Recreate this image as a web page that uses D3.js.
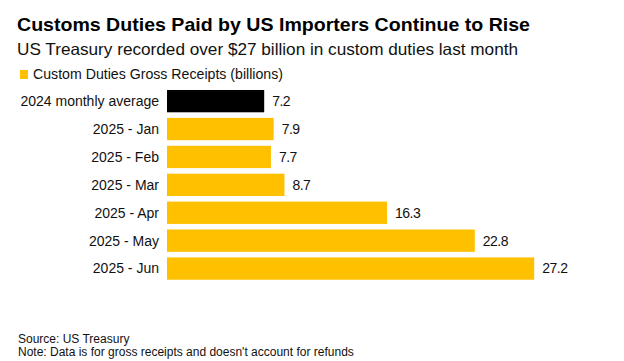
<!DOCTYPE html>
<html>
<head>
<meta charset="utf-8">
<script src="https://cdn.jsdelivr.net/npm/d3@7"></script>
<style>
  body { margin: 0; background: #fff; }
  svg { display: block; font-family: "Liberation Sans", Arial, sans-serif; }
</style>
</head>
<body>
<div id="container"></div>
<script>
// chart data
const categories = ["2024 monthly average", "2025 - Jan", "2025 - Feb", "2025 - Mar", "2025 - Apr", "2025 - May", "2025 - Jun"];
const receipts = [7.2, 7.9, 7.7, 8.7, 16.3, 22.8, 27.2];
const barColors = ["#000000", "#ffc000", "#ffc000", "#ffc000", "#ffc000", "#ffc000", "#ffc000"];

const width = 624, height = 361;

const svg = d3.select("#container").append("svg")
    .attr("width", width)
    .attr("height", height)
    .attr("viewBox", [0, 0, width, height]);

svg.append("rect").attr("width", width).attr("height", height).attr("fill", "#fff");

// title + subtitle
svg.append("text")
    .attr("x", 17).attr("y", 31)
    .attr("font-size", 19).attr("font-weight", "bold")
    .attr("fill", "#000")
    .attr("textLength", 513).attr("lengthAdjust", "spacingAndGlyphs")
    .text("Customs Duties Paid by US Importers Continue to Rise");

svg.append("text")
    .attr("x", 17).attr("y", 55)
    .attr("font-size", 16.5)
    .attr("fill", "#111")
    .attr("textLength", 501).attr("lengthAdjust", "spacingAndGlyphs")
    .text("US Treasury recorded over $27 billion in custom duties last month");

// legend
svg.append("rect")
    .attr("x", 20).attr("y", 70).attr("width", 8).attr("height", 9)
    .attr("fill", "#ffc000");
svg.append("text")
    .attr("x", 33).attr("y", 79)
    .attr("font-size", 14)
    .attr("fill", "#111")
    .attr("textLength", 250).attr("lengthAdjust", "spacingAndGlyphs")
    .text("Custom Duties Gross Receipts (billions)");

// scales
const x = d3.scaleLinear().domain([0, 30]).range([167, 572]);
const y = d3.scaleBand().domain(categories).range([84.4, 285.3]).padding(0.2);

const rows = categories.map((c, i) => ({cat: c, value: receipts[i], color: barColors[i]}));

svg.append("g")
    .selectAll("rect")
    .data(rows)
    .join("rect")
    .attr("x", x(0))
    .attr("y", d => y(d.cat))
    .attr("width", d => x(d.value) - x(0))
    .attr("height", y.bandwidth())
    .attr("fill", d => d.color);

// category labels
svg.append("g")
    .attr("font-size", 14)
    .attr("fill", "#111")
    .attr("text-anchor", "end")
    .selectAll("text")
    .data(rows)
    .join("text")
    .attr("x", x(0) - 8)
    .attr("y", d => y(d.cat) + y.bandwidth() / 2)
    .attr("dy", "0.35em")
    .text(d => d.cat);

// value labels
svg.append("g")
    .attr("font-size", 14)
    .attr("fill", "#111")
    .selectAll("text")
    .data(rows)
    .join("text")
    .attr("x", d => x(d.value) + 8)
    .attr("y", d => y(d.cat) + y.bandwidth() / 2)
    .attr("dy", "0.35em")
    .attr("letter-spacing", "-0.5")
    .text(d => d.value.toFixed(1));

// footer
svg.append("text")
    .attr("x", 18).attr("y", 343)
    .attr("font-size", 12).attr("fill", "#111")
    .text("Source: US Treasury");
svg.append("text")
    .attr("x", 18).attr("y", 356)
    .attr("font-size", 12).attr("fill", "#111")
    .text("Note: Data is for gross receipts and doesn't account for refunds");
</script>
</body>
</html>
